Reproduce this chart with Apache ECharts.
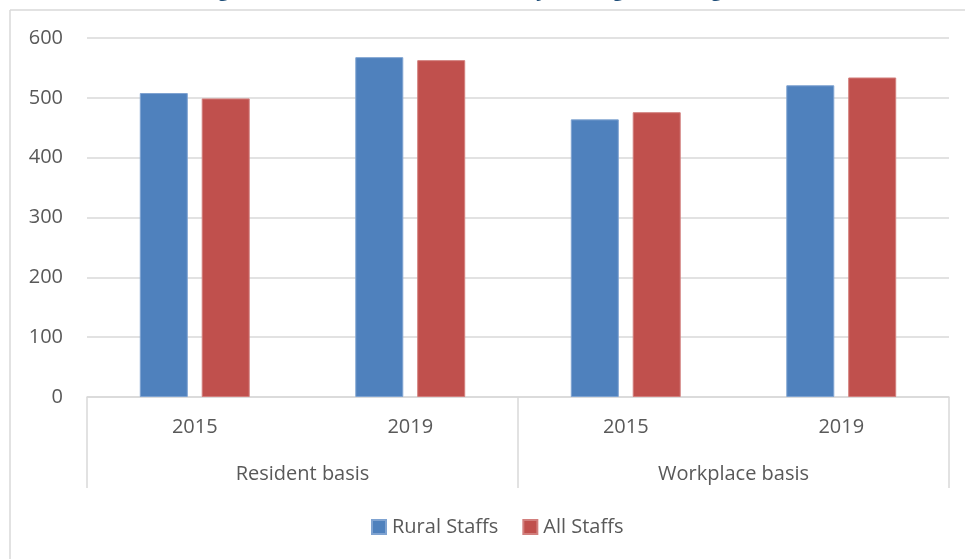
<!DOCTYPE html>
<html>
<head>
<meta charset="utf-8">
<script src="https://cdn.jsdelivr.net/npm/echarts@6/dist/echarts.min.js"></script>
<style>
html,body{margin:0;padding:0;background:#fff;}
#chart{width:965px;height:559px;}
</style>
</head>
<body>
<div id="chart"></div>
<script>
const titleText = 'Figure 3: Median full-time weekly average earnings (£)';
const years = ['2015', '2019', '2015', '2019'];
const groups = ['Resident basis', 'Workplace basis'];
const seriesNames = ['Rural Staffs', 'All Staffs'];
const ruralStaffs = [508, 568, 464, 521];
const allStaffs = [499, 563, 476, 534];
const yTicks = [0, 100, 200, 300, 400, 500, 600];

const FONT = '"Open Sans", sans-serif';
const TXT = '#595959';
const LINE = '#d9d9d9';

const chart = echarts.init(document.getElementById('chart'));
chart.setOption({
  animation: false,
  backgroundColor: '#fff',
  title: {
    text: titleText,
    left: 'center',
    top: -25,
    textStyle: { color: '#1F4E79', fontFamily: FONT, fontWeight: 'bold', fontSize: 21 }
  },
  graphic: [
    { type: 'line', silent: true, shape: { x1: 10, y1: 10, x2: 965, y2: 10 }, style: { stroke: LINE, lineWidth: 1.5 } },
    { type: 'line', silent: true, shape: { x1: 10, y1: 10, x2: 10, y2: 559 }, style: { stroke: LINE, lineWidth: 1.5 } }
  ],
  legend: {
    data: seriesNames,
    left: 366,
    top: 512,
    itemWidth: 14,
    itemHeight: 14,
    itemGap: 24,
    icon: 'rect',
    textStyle: { color: TXT, fontFamily: FONT, fontSize: 20, padding: [0, 0, 0, 1] }
  },
  grid: { left: 87, right: 16, top: 38, bottom: 162, containLabel: false },
  xAxis: [
    {
      type: 'category',
      data: years,
      position: 'bottom',
      axisLine: { show: false },
      axisTick: { show: false },
      axisLabel: { color: TXT, fontFamily: FONT, fontSize: 20, margin: 20 }
    },
    {
      type: 'category',
      data: groups,
      position: 'bottom',
      axisLine: { show: true, lineStyle: { color: LINE, width: 1.5 } },
      axisTick: { show: true, length: 91, lineStyle: { color: LINE, width: 1.5 } },
      axisLabel: { color: TXT, fontFamily: FONT, fontSize: 20, margin: 67 }
    }
  ],
  yAxis: {
    type: 'value',
    min: 0,
    max: 600,
    interval: 100,
    axisLine: { show: false },
    axisTick: { show: false },
    splitLine: { lineStyle: { color: LINE, width: 1.5 } },
    axisLabel: {
      color: TXT, fontFamily: FONT, fontSize: 20, margin: 24,
      formatter: v => yTicks.includes(v) ? String(v) : ''
    }
  },
  series: [
    {
      name: seriesNames[0], type: 'bar', xAxisIndex: 0, data: ruralStaffs,
      barWidth: 48, barGap: '29%',
      itemStyle: { color: '#4F81BD', borderColor: '#7FA3D1', borderWidth: 1 }
    },
    {
      name: seriesNames[1], type: 'bar', xAxisIndex: 0, data: allStaffs,
      barWidth: 48, barGap: '29%',
      itemStyle: { color: '#C0504D', borderColor: '#D27F7D', borderWidth: 1 }
    }
  ]
});
</script>
</body>
</html>
